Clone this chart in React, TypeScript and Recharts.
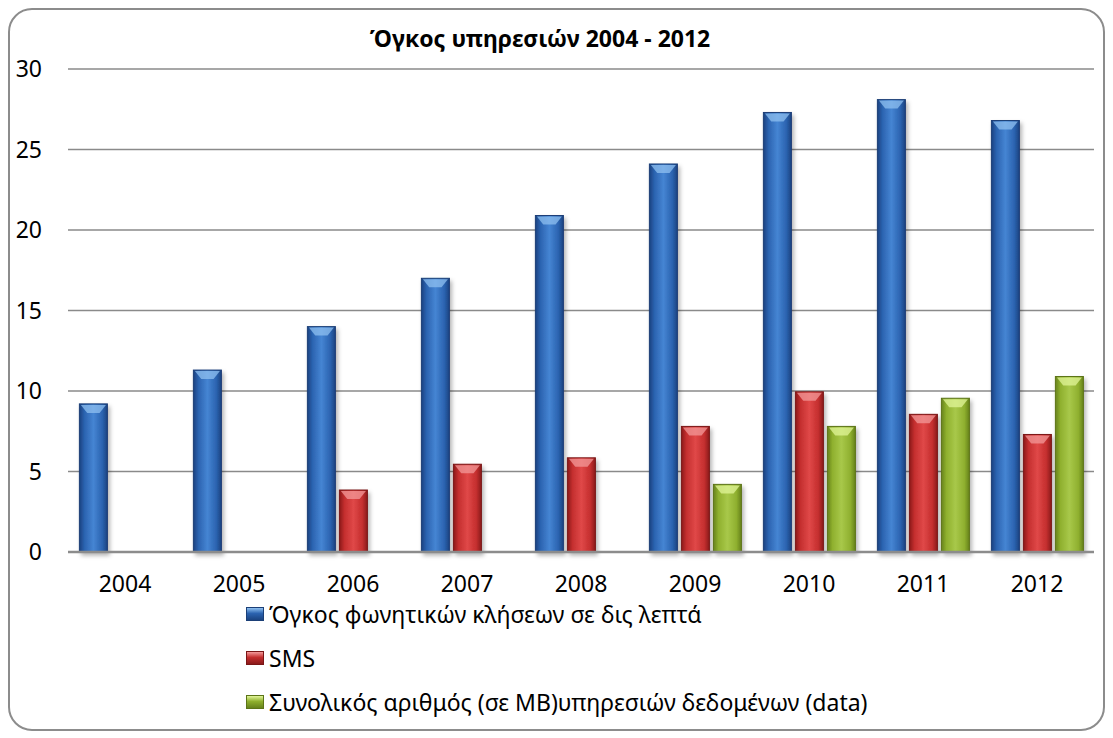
import React from 'react';
import { BarChart, Bar, XAxis, YAxis, CartesianGrid, Legend } from 'recharts';

// values
const years = ['2004', '2005', '2006', '2007', '2008', '2009', '2010', '2011', '2012'];
const voiceMinutes = [9.2, 11.3, 14.0, 17.0, 20.9, 24.1, 27.3, 28.1, 26.8];
const smsCount = [null, null, 3.85, 5.45, 5.85, 7.8, 9.95, 8.55, 7.3];
const dataVolume = [null, null, null, null, null, 4.2, 7.8, 9.55, 10.9];
const yTicks = [0, 5, 10, 15, 20, 25, 30];

const chartTitle = 'Όγκος υπηρεσιών 2004 - 2012';
const voiceLabel = 'Όγκος φωνητικών κλήσεων σε δις λεπτά';
const smsLabel = 'SMS';
const dataLabel = 'Συνολικός αριθμός (σε MB)υπηρεσιών δεδομένων (data)';

const data = years.map((year, i) => ({
  year,
  voice: voiceMinutes[i],
  sms: smsCount[i],
  data: dataVolume[i],
}));

const series = [
  { key: 'voice', label: voiceLabel, dark: '#1b4380', mid: '#2b63b0', light: '#4585d3', cap: '#8fc0f0', edge: '#1b3f77' },
  { key: 'sms', label: smsLabel, dark: '#8a1a1a', mid: '#c42e2e', light: '#e04848', cap: '#f39a9a', edge: '#7a1616' },
  { key: 'data', label: dataLabel, dark: '#66821c', mid: '#8fb02e', light: '#a8c84a', cap: '#e2f59a', edge: '#5c7418' },
];

const fontFamily = '"Noto Sans", "DejaVu Sans", sans-serif';

const makeShape = (s: typeof series[number]) => (props: any) => {
  const { x, y, width, height } = props;
  if (!height || height <= 0) return <g />;
  const capH = Math.min(9, height / 2);
  return (
    <g filter="url(#barShadow)">
      <rect x={x} y={y} width={width} height={height} fill={`url(#grad-${s.key})`} stroke={s.edge} strokeWidth={1} />
      <path
        d={`M${x + 1.5},${y + 1} L${x + width - 1.5},${y + 1} L${x + width * 0.72},${y + capH} L${x + width * 0.28},${y + capH} Z`}
        fill={s.cap}
        opacity={0.75}
      />
    </g>
  );
};

const renderLegend = () => (
  <ul style={{ listStyle: 'none', margin: 0, padding: 0, fontFamily }}>
    {series.map((s) => (
      <li
        key={s.key}
        style={{
          height: 44,
          display: 'flex',
          alignItems: 'center',
          fontSize: 23,
          lineHeight: '22px',
          color: '#000',
          whiteSpace: 'nowrap',
        }}
      >
        <span
          style={{
            display: 'inline-block',
            width: 16,
            height: 12,
            marginRight: 5,
            background: `linear-gradient(to bottom, ${s.cap}, ${s.mid} 45%, ${s.dark})`,
            border: `1px solid ${s.edge}`,
          }}
        />
        <span>{s.label}</span>
      </li>
    ))}
  </ul>
);

const App: React.FC = () => {
  return (
    <div
      style={{
        position: 'relative',
        width: 1097,
        height: 723,
        border: '2px solid #8c8c8c',
        borderRadius: 24,
        boxSizing: 'border-box',
        background: '#fff',
        fontFamily,
      }}
    >
      <div
        style={{
          position: 'absolute',
          left: 530,
          top: 17,
          transform: 'translateX(-50%)',
          fontSize: 23,
          lineHeight: '23px',
          fontWeight: 'bold',
          whiteSpace: 'nowrap',
          color: '#000',
        }}
      >
        {chartTitle}
      </div>
      <div style={{ position: 'absolute', left: 0, top: 0 }}>
        <BarChart
          width={1093}
          height={716}
          data={data}
          margin={{ top: 59, right: 9, left: 0, bottom: 134 }}
          barCategoryGap="10%"
          barGap={4}
        >
          <defs>
            {series.map((s) => (
              <linearGradient key={s.key} id={`grad-${s.key}`} x1="0" y1="0" x2="1" y2="0">
                <stop offset="0%" stopColor={s.dark} />
                <stop offset="18%" stopColor={s.mid} />
                <stop offset="50%" stopColor={s.light} />
                <stop offset="82%" stopColor={s.mid} />
                <stop offset="100%" stopColor={s.dark} />
              </linearGradient>
            ))}
            <filter id="barShadow" x="-20%" y="-5%" width="150%" height="115%">
              <feDropShadow dx="2" dy="3" stdDeviation="2" floodColor="#000" floodOpacity="0.3" />
            </filter>
          </defs>
          <CartesianGrid vertical={false} stroke="#8a8a8a" strokeWidth={1.5} />
          <XAxis
            dataKey="year"
            height={40}
            tickSize={0}
            tickMargin={24}
            axisLine={{ stroke: '#8c8c8c', strokeWidth: 2.5 }}
            tick={{ fontSize: 23, fill: '#000', fontFamily }}
          />
          <YAxis
            width={58}
            domain={[0, 30]}
            ticks={yTicks}
            tickSize={0}
            tickMargin={26}
            axisLine={false}
            tick={{ fontSize: 23, fill: '#000', fontFamily }}
          />
          <Legend
            layout="vertical"
            align="center"
            verticalAlign="middle"
            content={renderLegend}
            wrapperStyle={{ top: 582, left: 236, width: 'auto' }}
          />
          {series.map((s) => (
            <Bar
              key={s.key}
              dataKey={s.key}
              name={s.label}
              fill={s.mid}
              shape={makeShape(s)}
              isAnimationActive={false}
            />
          ))}
        </BarChart>
      </div>
    </div>
  );
};

export default App;
